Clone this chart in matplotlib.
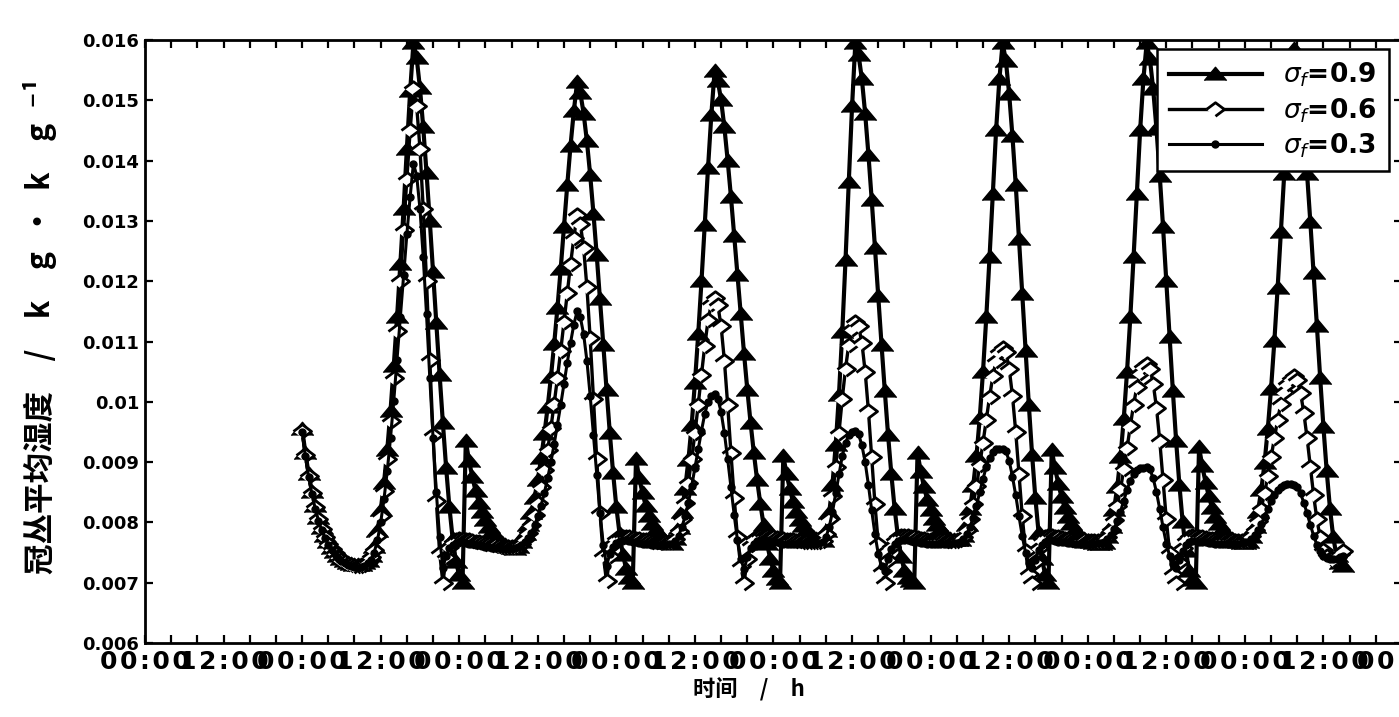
import numpy as np
import matplotlib.pyplot as plt
from matplotlib.ticker import MultipleLocator, FuncFormatter

# canopy mean humidity, units of 1e-5 kg/kg, one value every half hour from hour 24
t_start = 24.0
t_step = 0.5

q_09 = [
    955, 915, 880, 851, 827, 807, 791, 778, 767, 758, 751, 745, 740, 736, 733, 731, 730, 729, 730, 732, 736,
    745, 760, 785, 820, 865, 920, 985, 1060, 1140, 1228, 1320, 1420, 1515, 1595,
    1570, 1520, 1455, 1380, 1300, 1215, 1130, 1045, 965, 890, 825, 772, 735, 712, 700,
    935, 902, 875, 852, 833, 817, 804, 793, 784, 777, 771, 766, 762, 759, 757, 756,
    760, 768, 780, 796, 816, 841, 871, 906, 946, 991, 1041, 1096, 1156, 1221, 1290, 1360, 1425, 1482, 1530,
    1512, 1478, 1432, 1376, 1312, 1243, 1170, 1095, 1020, 948, 882, 825, 780, 746, 723, 708, 700,
    905, 873, 848, 827, 810, 797, 787, 779, 773, 769, 766, 765,
    772, 790, 818, 855, 903, 962, 1032, 1112, 1200, 1293, 1388, 1475, 1548,
    1532, 1500, 1455, 1400, 1340, 1275, 1210, 1145, 1080, 1020, 965, 915, 870, 830, 795, 765, 740, 720, 706, 700,
    910, 880, 855, 834, 817, 804, 794, 786, 780, 775, 772, 770, 769,
    785, 815, 862, 928, 1012, 1115, 1235, 1365, 1490, 1595,
    1575, 1535, 1478, 1410, 1335, 1255, 1175, 1095, 1018, 945, 880, 823, 777, 743, 720, 708, 702, 700,
    915, 884, 858, 837, 820, 806, 795, 787, 781, 776, 773, 771, 770, 770,
    778, 795, 822, 860, 910, 973, 1050, 1140, 1240, 1345, 1450, 1535, 1595,
    1565, 1510, 1440, 1360, 1270, 1178, 1085, 995, 912, 840, 782, 740, 713, 700,
    920, 890, 864, 842, 824, 809, 797, 788, 781, 776, 772, 769, 767, 766, 765, 765, 766,
    775, 792, 820, 858, 908, 972, 1050, 1140, 1240, 1345, 1450, 1535, 1595,
    1568, 1518, 1452, 1375, 1290, 1200, 1108, 1018, 935, 862, 800, 752, 720, 705, 700,
    925, 893, 866, 843, 824, 809, 797, 788, 781, 776, 772, 769, 767, 766, 766, 767,
    776, 792, 818, 853, 898, 955, 1022, 1100, 1188, 1282, 1378, 1470, 1545, 1585,
    1560, 1512, 1450, 1378, 1298, 1213, 1126, 1040, 958, 885, 823, 775, 745, 732, 728,
]

q_06 = [
    952, 912, 877, 849, 825, 805, 789, 776, 765, 756, 749, 743, 738, 734, 731, 729, 728, 727, 728, 730, 734,
    742, 755, 778, 810, 852, 905, 968, 1040, 1118, 1200, 1285, 1370, 1450, 1520,
    1490, 1420, 1320, 1200, 1070, 945, 835, 750, 700,
    742, 760, 768, 771, 772, 772, 771, 770, 769, 768, 767, 766, 765, 764, 763, 762, 761, 760, 760, 759, 759, 759,
    761, 765, 772, 782, 795, 812, 833, 858, 887, 920, 957, 997, 1040, 1085, 1132, 1180, 1228, 1272, 1310,
    1295, 1255, 1190, 1105, 1005, 905, 815, 745, 702,
    745, 764, 772, 775, 776, 776, 775, 774, 773, 772, 771, 770, 769, 768, 768, 767, 767, 767, 767, 768,
    772, 785, 805, 832, 866, 905, 948, 995, 1045, 1093, 1135, 1162, 1172,
    1160, 1125, 1068, 995, 915, 840, 775, 727, 700,
    740, 762, 772, 776, 778, 778, 777, 776, 775, 774, 773, 772, 771, 770, 770, 769, 769, 768, 768, 768, 768, 768, 768, 769,
    780, 805, 843, 892, 948, 1005, 1055, 1095, 1120, 1132,
    1125, 1098, 1050, 985, 908, 830, 765, 720, 700,
    738, 760, 771, 776, 778, 778, 777, 776, 775, 774, 773, 772, 771, 771, 770, 770, 770, 770, 769, 769, 769, 769, 770,
    776, 788, 806, 830, 860, 895, 932, 970, 1008, 1042, 1068, 1083, 1090,
    1082, 1055, 1010, 950, 880, 810, 752, 714, 700,
    735, 758, 770, 775, 777, 777, 776, 775, 774, 773, 772, 771, 771, 770, 770, 770, 769, 769, 769, 769, 769, 770,
    776, 787, 804, 827, 855, 888, 923, 960, 995, 1025, 1047, 1058, 1062,
    1055, 1030, 990, 935, 870, 805, 750, 714, 700,
    735, 758, 770, 775, 777, 777, 776, 775, 774, 773, 772, 771, 771, 770, 770, 770, 770, 769, 769, 769, 770, 771,
    778, 788, 803, 823, 848, 877, 908, 940, 970, 997, 1017, 1030, 1038, 1042,
    1036, 1015, 982, 940, 892, 845, 805, 775, 755, 745, 740, 738, 742, 748, 752,
]

q_03 = [
    950, 910, 875, 847, 823, 803, 787, 774, 763, 754, 747, 741, 736, 732, 729, 727, 726, 725, 726, 728, 732,
    738, 750, 770, 800, 838, 885, 940, 1002, 1070, 1140, 1210, 1278, 1340, 1395,
    1375, 1320, 1240, 1145, 1040, 940, 850, 775, 725,
    745, 757, 763, 766, 767, 767, 766, 765, 764, 763, 762, 761, 760, 759, 758, 757, 757, 756, 756, 756, 756, 757,
    759, 762, 767, 774, 783, 795, 810, 828, 849, 873, 900, 930, 962, 995, 1030, 1065, 1098, 1128, 1150,
    1140, 1112, 1068, 1010, 945, 878, 815, 763, 728,
    748, 760, 766, 769, 770, 770, 769, 768, 767, 766, 765, 764, 764, 763, 763, 763, 763, 763, 764, 765,
    769, 778, 792, 810, 833, 860, 890, 921, 952, 980, 1000, 1010, 1013,
    1005, 983, 948, 905, 858, 812, 770, 740, 722,
    742, 757, 765, 769, 771, 771, 770, 769, 768, 767, 766, 765, 765, 764, 764, 764, 764, 764, 764, 764, 765, 765, 766, 767,
    775, 792, 817, 848, 880, 910, 932, 945, 950, 952,
    946, 928, 900, 862, 820, 780, 748, 728, 720,
    740, 756, 765, 769, 771, 771, 770, 769, 768, 767, 766, 766, 765, 765, 765, 765, 765, 765, 765, 765, 766, 766, 767,
    772, 780, 792, 808, 828, 850, 872, 892, 907, 917, 921, 922, 922,
    918, 902, 876, 845, 810, 777, 750, 732, 724,
    738, 754, 763, 768, 770, 770, 769, 768, 767, 767, 766, 766, 765, 765, 765, 765, 765, 765, 765, 766, 766, 767,
    772, 779, 789, 802, 818, 836, 854, 869, 880, 887, 890, 891, 892,
    888, 873, 850, 822, 792, 765, 745, 731, 725,
    738, 753, 762, 767, 769, 769, 768, 768, 767, 766, 766, 765, 765, 765, 765, 765, 765, 765, 765, 766, 767, 768,
    773, 779, 787, 797, 809, 822, 835, 846, 854, 859, 862, 863, 863, 862,
    858, 848, 833, 815, 796, 778, 763, 752, 745, 741, 739, 739, 740, 742, 745,
]

labels = [r'$\sigma_f$=0.9', r'$\sigma_f$=0.6', r'$\sigma_f$=0.3']
hour_names = ['00:00', '12:00']

# flattened triangle and diamond markers
tri = [(-1, -0.55), (0, 0.65), (1, -0.55)]
dia = [(-1, 0), (0, 0.75), (1, 0), (0, -0.75)]

fig = plt.figure(figsize=(13.99, 7.17), dpi=100)
ax = fig.add_axes([145 / 1399, 74 / 717, 1257 / 1399, 603 / 717])

styles = [
    dict(marker=tri, markersize=16, lw=3.0, mfc='black', mec='black'),
    dict(marker=dia, markersize=13, lw=2.4, mfc='white', mec='black', mew=2.0),
    dict(marker='o', markersize=5, lw=2.2, mfc='black', mec='black'),
]
for q, lab, st in zip([q_09, q_06, q_03], labels, styles):
    t = t_start + t_step * np.arange(len(q))
    ax.plot(t, np.array(q) * 1e-5, color='black', label=lab + '\u2003', **st)


def hour_label(v, pos):
    # hair spaces widen the label so neighbours run into each other
    s = hour_names[int(round(v / 12)) % 2]
    return '\u200a'.join(s)


ax.set_xlim(0, 192)
ax.set_ylim(0.006, 0.016)
ax.xaxis.set_major_locator(MultipleLocator(12))
ax.xaxis.set_minor_locator(MultipleLocator(4))
ax.xaxis.set_major_formatter(FuncFormatter(hour_label))
ax.yaxis.set_major_locator(MultipleLocator(0.001))
ax.yaxis.set_major_formatter(FuncFormatter(lambda v, p: ('%.3f' % v).rstrip('0')))

ax.tick_params(which='both', direction='in', length=6, width=1.6, top=True, right=True)
ax.tick_params(axis='x', pad=5, labelsize=18)
ax.tick_params(axis='y', pad=4, labelsize=13)
for tl in ax.get_xticklabels() + ax.get_yticklabels():
    tl.set_fontweight('bold')
for sp in ax.spines.values():
    sp.set_linewidth(2)

leg = ax.legend(loc='upper right', bbox_to_anchor=(0.99, 0.985), fancybox=False,
                edgecolor='black', framealpha=1, handlelength=3.5, borderpad=0.45,
                labelspacing=0.25, handletextpad=0.8, borderaxespad=0,
                prop={'size': 19, 'weight': 'bold'})
leg.get_frame().set_linewidth(1.8)

cjk = ['Noto Sans CJK SC', 'DejaVu Sans']
fig.text(749 / 1399, 1 - 690 / 717, '时间\u2003/\u2003h', family=cjk, fontsize=16,
         fontweight='bold', ha='center', va='center')
fig.text(40 / 1399, 1 - 326 / 717,
         '冠丛平均湿度\u2003/\u2003k\u2003g\u2002·\u2002k\u2003g\u2002⁻¹',
         family=cjk, fontsize=22, fontweight='bold', rotation=90, ha='center', va='center')

fig.savefig('out.png', dpi=100)
plt.close(fig)
